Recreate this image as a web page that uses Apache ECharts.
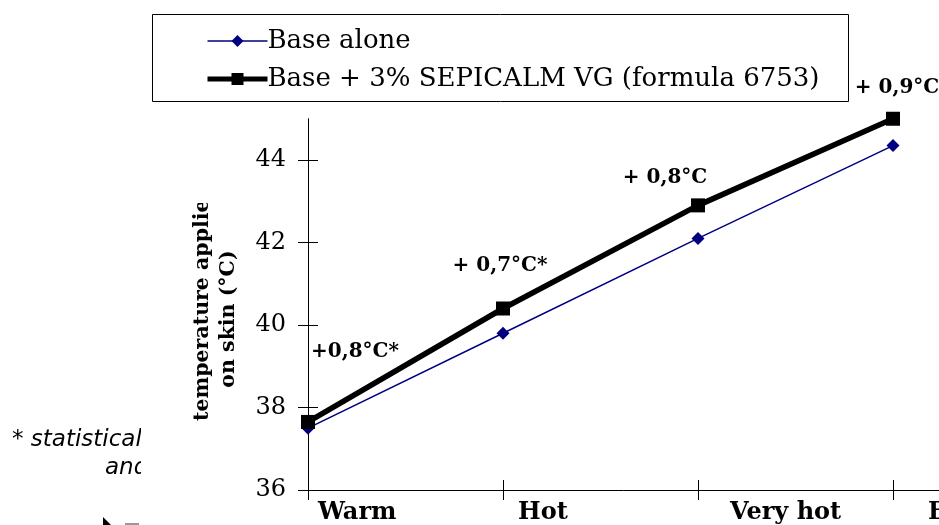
<!DOCTYPE html>
<html>
<head>
<meta charset="utf-8">
<script src="https://cdn.jsdelivr.net/npm/echarts@6/dist/echarts.min.js"></script>
<style>
html,body{margin:0;padding:0;background:#fff;}
#chart{width:939px;height:525px;}
</style>
</head>
<body>
<div id="chart"></div>
<script>
// ---- data ----
const categories = ['Warm', 'Hot', 'Very hot', 'Extremely hot', ''];
const baseAlone = [37.5, 39.8, 42.1, 44.35];
const baseSepicalm = [37.65, 40.4, 42.9, 45.0];
const yTickValues = [36, 38, 40, 42, 44];
const diffLabels = ['+0,8°C*', '+ 0,7°C*', '+ 0,8°C', '+ 0,9°C'];
const seriesNames = ['Base alone', 'Base + 3% SEPICALM VG (formula 6753)'];
const yAxisLines = ['temperature applied', 'on skin (°C)'];
const footnoteLines = ['* statistical', 'and'];

// ---- style / layout ----
const SERIF = 'DejaVu Serif';
const labelPad = [10, 15, 32, 35, 0];
const diffOffsets = [[47, -70], [-3, -43], [-33, -28], [4, -31]];

const chart = echarts.init(document.getElementById('chart'), null, {renderer: 'canvas'});

const xData = categories.map((c, i) => ({
  value: c,
  textStyle: {align: 'left', padding: [0, 0, 0, labelPad[i]]}
}));

const blackData = baseSepicalm.map((v, i) => ({
  value: v,
  label: {
    show: true,
    position: 'inside',
    offset: diffOffsets[i],
    formatter: diffLabels[i],
    fontFamily: SERIF,
    fontWeight: 'bold',
    fontSize: 20,
    color: '#000'
  }
}));

const option = {
  backgroundColor: '#fff',
  animation: false,
  grid: {left: 308, top: 118.75, width: 780, height: 371.25, containLabel: false, outerBoundsMode: 'none'},
  legend: {
    orient: 'vertical',
    left: 205,
    top: 28,
    itemWidth: 60,
    itemHeight: 15,
    itemGap: 12,
    padding: 0,
    textStyle: {fontFamily: SERIF, fontSize: 26, color: '#000', padding: [0, 0, 0, -5]},
    data: [
      {name: seriesNames[0], lineStyle: {width: 1.5, color: '#000080'}, itemStyle: {color: '#000080'}},
      {name: seriesNames[1], lineStyle: {width: 5, color: '#000'}, itemStyle: {color: '#000'}}
    ]
  },
  xAxis: [{
    type: 'category',
    data: xData,
    boundaryGap: false,
    axisLine: {lineStyle: {color: '#000', width: 1}},
    axisTick: {show: true, length: 10, lineStyle: {color: '#000'}},
    axisLabel: {
      align: 'left',
      margin: 11,
      fontFamily: SERIF,
      fontWeight: 'bold',
      fontSize: 24,
      color: '#000',
      interval: 0
    },
    splitLine: {show: false}
  }, {
    type: 'category',
    data: categories,
    boundaryGap: false,
    position: 'bottom',
    axisLine: {show: false},
    axisTick: {show: true, inside: true, length: 10, lineStyle: {color: '#000'}},
    axisLabel: {show: false},
    splitLine: {show: false}
  }],
  yAxis: [{
    type: 'value',
    min: 36,
    max: 45,
    interval: 2,
    axisLine: {show: true, lineStyle: {color: '#000', width: 1}},
    axisTick: {show: true, length: 10, lineStyle: {color: '#000'}, customValues: yTickValues},
    axisLabel: {
      margin: 22,
      fontFamily: SERIF,
      fontSize: 24,
      color: '#000',
      customValues: yTickValues
    },
    splitLine: {show: false}
  }, {
    type: 'value',
    min: 36,
    max: 45,
    interval: 2,
    position: 'left',
    axisLine: {show: false},
    axisTick: {show: true, inside: true, length: 10, lineStyle: {color: '#000'}, customValues: yTickValues},
    axisLabel: {show: false},
    splitLine: {show: false}
  }],
  series: [{
    name: seriesNames[0],
    type: 'line',
    data: baseAlone,
    symbol: 'diamond',
    symbolSize: 13,
    itemStyle: {color: '#000080'},
    lineStyle: {color: '#000080', width: 1.5},
    z: 3
  }, {
    name: seriesNames[1],
    type: 'line',
    data: blackData,
    symbol: 'rect',
    symbolSize: 14,
    itemStyle: {color: '#000'},
    lineStyle: {color: '#000', width: 5.5},
    z: 4
  }],
  graphic: [
    {type: 'rect', shape: {x: 152.5, y: 14.5, width: 696, height: 87}, style: {fill: 'none', stroke: '#000', lineWidth: 1}, z: 1},
    {type: 'text', x: 203, y: 421, rotation: Math.PI / 2, style: {text: yAxisLines[0], font: 'bold 20.5px "DejaVu Serif"', fill: '#000', align: 'left', verticalAlign: 'middle'}, z: 5},
    {type: 'rect', shape: {x: 188, y: 170, width: 30, height: 33}, style: {fill: '#fff'}, z: 10},
    {type: 'text', x: 229, y: 319, rotation: Math.PI / 2, style: {text: yAxisLines[1], font: 'bold 20.5px "DejaVu Serif"', fill: '#000', align: 'center', verticalAlign: 'middle'}},
    {type: 'text', x: 12, y: 440, style: {text: footnoteLines[0], font: 'italic 23px "DejaVu Sans"', fill: '#000', align: 'left', verticalAlign: 'middle'}},
    {type: 'text', x: 105, y: 468, style: {text: footnoteLines[1], font: 'italic 23px "DejaVu Sans"', fill: '#000', align: 'left', verticalAlign: 'middle'}},
    {type: 'rect', shape: {x: 141, y: 425, width: 100, height: 55}, style: {fill: '#fff'}, z: 10},
    {type: 'polygon', shape: {points: [[103, 517], [103, 525], [111, 525]]}, style: {fill: '#000'}},
    {type: 'rect', shape: {x: 125, y: 523, width: 14, height: 2}, style: {fill: '#999'}}
  ]
};

chart.setOption(option);
</script>
</body>
</html>
